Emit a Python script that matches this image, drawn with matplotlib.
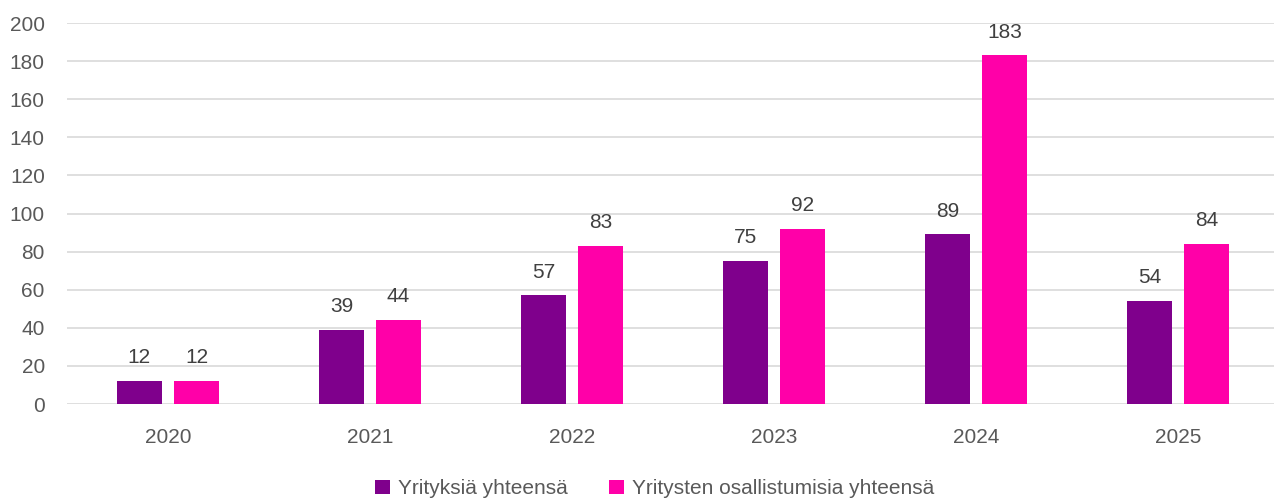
import matplotlib
matplotlib.use("Agg")
import matplotlib.pyplot as plt
import numpy as np

vuodet = ["2020", "2021", "2022", "2023", "2024", "2025"]
yritykset = [12, 39, 57, 75, 89, 54]
osallistumiset = [12, 44, 83, 92, 183, 84]

plt.rcParams['font.family'] = ['Liberation Sans', 'DejaVu Sans']
harmaa = '#595959'

fig = plt.figure(figsize=(12.74, 5.01), dpi=100)
ax = fig.add_axes([0.0526, 0.1936, 0.9513, 0.7604])

x = np.arange(len(vuodet))
w = 0.223
b1 = ax.bar(x - 0.03 - w / 2, yritykset, w, color='#7F008C', label='Yrityksiä yhteensä', zorder=3)
b2 = ax.bar(x + 0.03 + w / 2, osallistumiset, w, color='#FF00A8', label='Yritysten osallistumisia yhteensä', zorder=3)

# arvot palkkien päälle
for bars in (b1, b2):
    for r in bars:
        ax.annotate(str(int(r.get_height())), (r.get_x() + r.get_width() / 2, r.get_height()),
                    xytext=(0, 10), textcoords='offset points', ha='center', va='bottom',
                    fontsize=15, color='#404040')

ax.set_ylim(0, 200)
ax.set_yticks(range(0, 201, 20))
ax.set_xlim(-0.5, len(vuodet) - 0.5)
ax.set_xticks(x)
ax.set_xticklabels(vuodet)
ax.grid(axis='y', color='#d9d9d9', linewidth=1.2, zorder=0)
for s in ax.spines.values():
    s.set_visible(False)
ax.tick_params(length=0, labelsize=15, colors=harmaa)
ax.tick_params(axis='x', pad=17)
ax.tick_params(axis='y', pad=16)

leg = fig.legend(loc='lower center', bbox_to_anchor=(0.514, -0.032), ncol=2, frameon=False,
                 fontsize=15, handlelength=0.7, handleheight=0.7, columnspacing=2.0,
                 handletextpad=0.4)
for t in leg.get_texts():
    t.set_color(harmaa)

fig.savefig('out.png', dpi=100)
